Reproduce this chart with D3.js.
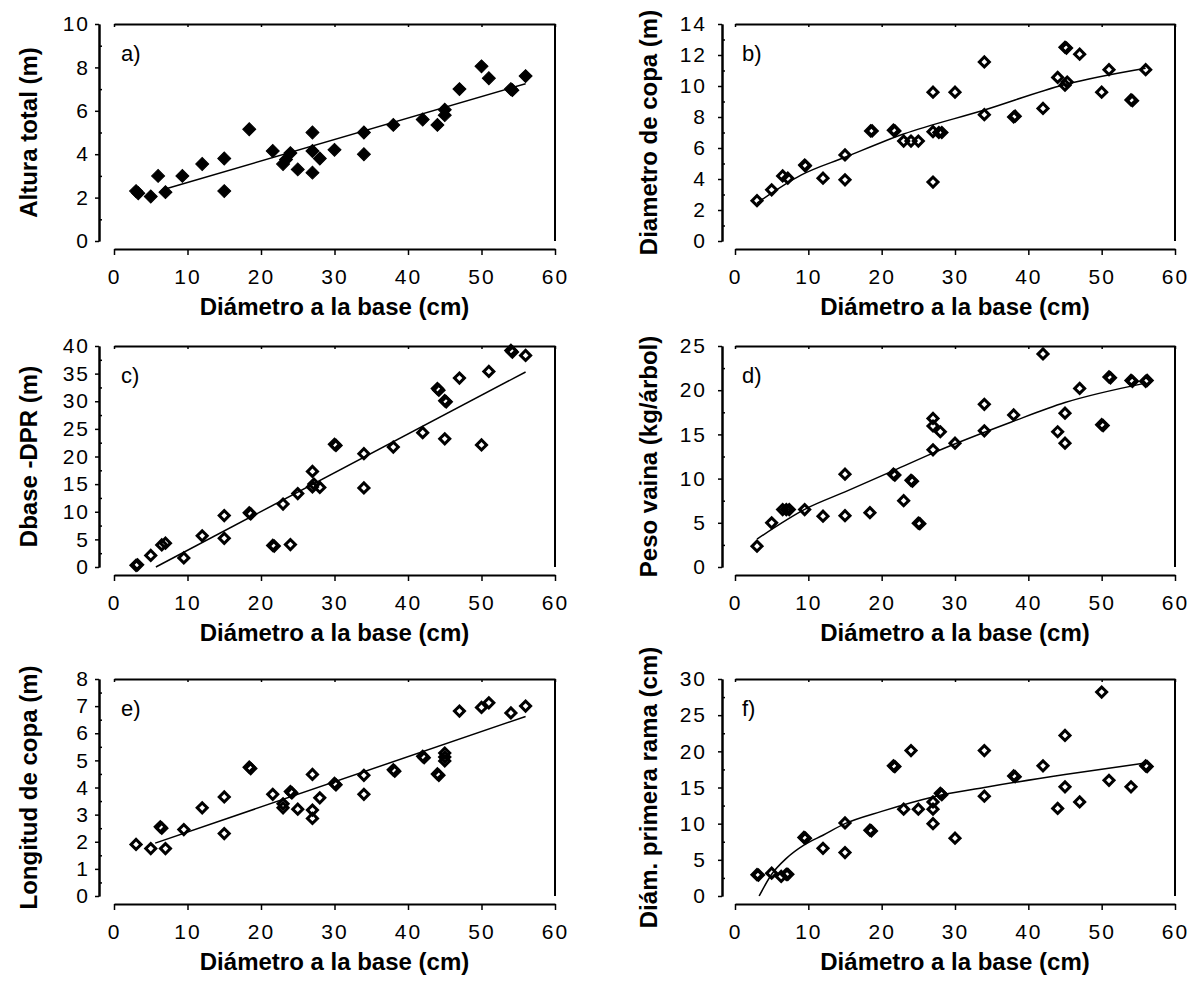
<!DOCTYPE html>
<html lang="es">
<head>
<meta charset="UTF-8">
<title>Relaciones con el diámetro a la base</title>
<script src="https://d3js.org/d3.v7.min.js"></script>
<style>
body { margin: 0; background: white; }
svg text { font-family: "Liberation Sans", Arial, Helvetica, sans-serif; fill: black; }
.axis-title { font-size: 24px; font-weight: bold; }
.panel-label { font-size: 22px; }
</style>
</head>
<body>
<svg id="chart" width="1192" height="985"></svg>
<script>
// values, x = diámetro a la base (cm)
var xMax = 60;
var xTicks = [0, 10, 20, 30, 40, 50, 60];
var xTitle = "Diámetro a la base (cm)";

var panelNames = ["a)", "b)", "c)", "d)", "e)", "f)"];
var yTitles = ["Altura total (m)", "Diametro de copa (m)", "Dbase -DPR (m)",
               "Peso vaina (kg/árbol)", "Longitud de copa (m)", "Diám. primera rama (cm)"];
var yMax = [10, 14, 40, 25, 8, 30];
var yStep = [2, 2, 5, 5, 1, 5];

var ptsA = [[3,2.3],[3.3,2.2],[5,2.05],[6,3.0],[7,2.25],[9.3,3.0],[12,3.55],[15,3.8],[15,2.3],
  [18.4,5.15],[21.6,4.15],[23,3.55],[23.4,3.75],[24,4.05],[25,3.3],[27,5.0],[27,4.15],[27,3.15],
  [28,3.8],[30,4.2],[34,5.0],[34,4.0],[38,5.35],[42,5.6],[44,5.35],[45,6.05],[45,5.8],[47,7.0],
  [50,8.05],[51,7.5],[54,7.0],[54.2,6.95],[56,7.6]];
var ptsB = [[3,2.6],[5,3.3],[6.5,4.2],[7.2,4.05],[9.5,4.9],[9.6,4.85],[12,4.05],[15,5.55],[15,3.95],
  [18.5,7.1],[18.7,7.1],[21.6,7.15],[21.8,7.1],[23,6.45],[24,6.45],[25,6.45],[27,9.6],[27,7.05],[27,3.8],
  [27.8,7.0],[28.2,7.0],[30,9.6],[34,11.55],[34,8.15],[38,8.0],[38.2,8.05],[42,8.55],[44,10.55],
  [45,12.5],[45.2,12.45],[45,10.05],[45.3,10.25],[47,12.05],[50,9.6],[51,11.05],[54,9.1],[54.2,9.05],[56,11.05]];
var ptsC = [[3,0.3],[3.2,0.4],[5,2.1],[6.5,4.0],[7,4.3],[9.5,1.65],[12,5.65],[15,9.3],[15,5.2],
  [18.4,9.8],[18.6,9.6],[21.6,3.9],[21.8,3.8],[23,11.4],[24,4.05],[25,13.3],[27,17.3],[27,14.5],
  [27.2,15.0],[28,14.4],[30,22.2],[30.2,22.0],[34,20.5],[34,14.3],[38,21.7],[42,24.3],[44,32.3],
  [44.2,32.0],[45,30.1],[45.2,29.9],[45,23.2],[47,34.2],[50,22.1],[51,35.4],[54,39.2],[54.2,38.9],[56,38.3]];
var ptsD = [[3,2.35],[5,5.0],[6.5,6.5],[7,6.5],[7.4,6.5],[9.5,6.5],[12,5.75],[15,10.5],[15,5.8],
  [18.4,6.15],[21.6,10.5],[21.8,10.4],[23,7.5],[24,9.8],[24.2,9.7],[25,4.95],[25.2,4.9],[27,16.8],
  [27,15.95],[27,13.25],[28,15.3],[30,14.0],[34,18.4],[34,15.4],[38,17.2],[42,24.1],[44,15.3],
  [45,17.4],[45,14.0],[47,20.2],[50,16.1],[50.2,16.0],[51,21.5],[51.2,21.4],[54,21.1],[54.2,21.0],
  [56,21.0],[56.2,21.1]];
var ptsE = [[3,1.9],[5,1.75],[6.3,2.55],[6.5,2.5],[7,1.75],[9.5,2.45],[12,3.25],[15,3.65],[15,2.3],
  [18.4,4.75],[18.6,4.7],[21.6,3.75],[23,3.25],[23,3.4],[24,3.85],[24.2,3.8],[25,3.2],[27,4.48],
  [27,3.17],[27,2.86],[28,3.62],[30,4.15],[30.2,4.1],[34,4.45],[34,3.75],[38,4.65],[38.2,4.6],
  [42,5.15],[42.2,5.1],[44,4.5],[44.2,4.45],[45,5.27],[45,4.98],[45,5.12],[47,6.82],[50,6.95],
  [51,7.12],[54,6.75],[56,7.0]];
var ptsF = [[3,2.95],[3.2,2.9],[5,3.15],[6.3,2.7],[7,3.0],[7.2,3.0],[9.4,8.1],[9.6,8.0],[12,6.6],
  [15,10.1],[15,6.0],[18.4,9.1],[18.6,9.0],[21.6,18.0],[21.8,17.9],[23,12.0],[24,20.1],[25,12.0],
  [27,13.0],[27,12.0],[27,10.0],[28,14.2],[28.2,14.0],[30,8.0],[34,20.1],[34,13.8],[38,16.6],
  [38.2,16.5],[42,18.0],[44,12.1],[45,22.2],[45,15.1],[47,13.0],[50,28.2],[51,16.0],[54,15.1],
  [56,18.0],[56.2,17.9]];

// fitted trend lines
var fitA = [[6.5,2.35],[56,7.25]];
var fitB = [[3,2.45],[9,4.25],[15,5.4],[23,6.9],[34,8.45],[45,10.1],[56,11.15]];
var fitC = [[5.7,0],[56,35.3]];
var fitD = [[3,3.15],[9.7,6.6],[15,8.5],[21.6,10.9],[27.3,13.0],[37.7,16.4],[45,18.6],[56,20.8]];
var fitE = [[5.6,1.95],[56,6.62]];
var fitF = [[3.3,0],[5,3.0],[7,5.2],[9.5,7.1],[12,8.4],[15,10.0],[20,11.7],[27,13.7],[34,15.0],[45,16.8],[56,18.4]];

var points = [ptsA, ptsB, ptsC, ptsD, ptsE, ptsF];
var fits = [fitA, fitB, fitC, fitD, fitE, fitF];

// layout of the 3 x 2 grid
var colLeft = [114, 735], colRight = [555, 1175], colAxis = [99, 722];
var colLabelPad = [5, 11], colTitleX = [37, 657];
var rowTop = [24, 346, 679], rowBottom = [241, 567, 896];

var svg = d3.select("#chart");
var diamond = d3.symbol().type(d3.symbolSquare);

function styleAxis(g) {
  g.attr("font-size", 21)
   .attr("font-family", null);
  g.selectAll("path").attr("stroke-width", 2);
  g.selectAll("line").attr("stroke-width", 1.5);
  g.selectAll("text").attr("letter-spacing", 2);
}

points.forEach(function(pts, i) {
  var c = i % 2, r = Math.floor(i / 2);
  var x = d3.scaleLinear().domain([0, xMax]).range([colLeft[c], colRight[c]]);
  var y = d3.scaleLinear().domain([0, yMax[i]]).range([rowBottom[r], rowTop[r]]);
  var g = svg.append("g");

  // top frame with small ticks
  g.append("g")
    .attr("transform", "translate(0," + y(yMax[i]) + ")")
    .call(d3.axisTop(x).tickValues(xTicks).tickSize(-3).tickSizeOuter(0).tickFormat(""))
    .call(styleAxis);
  // right frame
  g.append("line")
    .attr("x1", x(xMax)).attr("x2", x(xMax))
    .attr("y1", y(yMax[i])).attr("y2", y(0))
    .attr("stroke", "black").attr("stroke-width", 2);

  // y axis, major ticks outside, minor ticks inside
  var major = d3.range(0, yMax[i] + yStep[i] / 10, yStep[i]);
  var minor = d3.range(yStep[i] / 2, yMax[i], yStep[i]);
  g.append("g")
    .attr("transform", "translate(" + colAxis[c] + ",0)")
    .call(d3.axisLeft(y).tickValues(major).tickSize(4).tickSizeOuter(0).tickPadding(colLabelPad[c]))
    .call(styleAxis);
  g.append("g")
    .attr("transform", "translate(" + colAxis[c] + ",0)")
    .call(d3.axisLeft(y).tickValues(minor).tickSize(-3).tickSizeOuter(0).tickFormat(""))
    .call(styleAxis);

  // x axis, offset below the plot
  g.append("g")
    .attr("transform", "translate(0," + (rowBottom[r] + 8) + ")")
    .call(d3.axisBottom(x).tickValues(xTicks).tickSize(6).tickSizeOuter(0).tickPadding(14))
    .call(styleAxis);

  // trend
  g.append("path")
    .datum(fits[i])
    .attr("fill", "none")
    .attr("stroke", "black")
    .attr("stroke-width", 1.5)
    .attr("d", d3.line().x(function(d) { return x(d[0]); })
                        .y(function(d) { return y(d[1]); })
                        .curve(d3.curveMonotoneX));

  // markers
  var filled = (i === 0);
  g.selectAll(".pt")
    .data(pts)
    .join("path")
    .attr("class", "pt")
    .attr("transform", function(d) { return "translate(" + x(d[0]) + "," + y(d[1]) + ") rotate(45)"; })
    .attr("d", diamond.size(filled ? 84 : 50))
    .attr("fill", filled ? "black" : "none")
    .attr("stroke", "black")
    .attr("stroke-width", filled ? 1 : 3);

  // texts
  g.append("text")
    .attr("class", "panel-label")
    .attr("x", colLeft[c] + 7)
    .attr("y", rowTop[r] + 37)
    .text(panelNames[i]);
  g.append("text")
    .attr("class", "axis-title")
    .attr("text-anchor", "middle")
    .attr("x", (colLeft[c] + colRight[c]) / 2)
    .attr("y", rowBottom[r] + 74)
    .text(xTitle);
  g.append("text")
    .attr("class", "axis-title")
    .attr("text-anchor", "middle")
    .attr("transform", "translate(" + colTitleX[c] + "," + (rowTop[r] + rowBottom[r]) / 2 + ") rotate(-90)")
    .text(yTitles[i]);
});
</script>
</body>
</html>
